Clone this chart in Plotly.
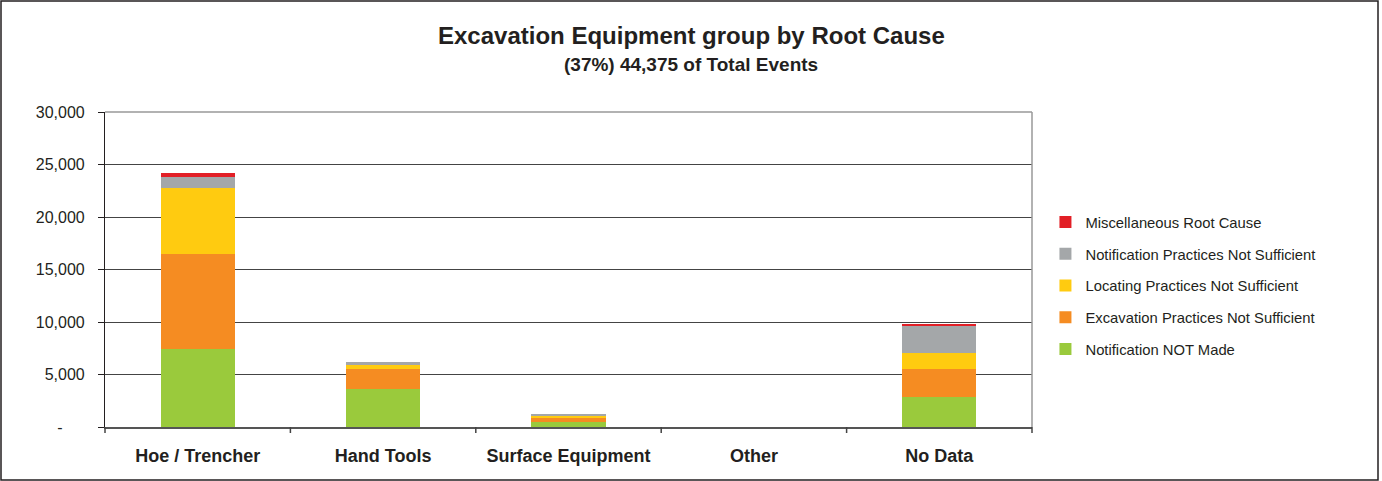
import plotly.graph_objects as go

# Equipment groups along the x axis
categories = ["Hoe / Trencher", "Hand Tools", "Surface Equipment", "Other", "No Data"]

# Event counts per root cause (stacked bottom to top)
notification_not_made = [7450, 3600, 500, 0, 2850]
excavation_practices = [9030, 1920, 350, 0, 2670]
locating_practices = [6260, 350, 280, 0, 1520]
notification_practices = [1050, 320, 20, 0, 2600]
miscellaneous = [380, 0, 0, 0, 160]

series = [
    ("Notification NOT Made", notification_not_made, "#9aca3c"),
    ("Excavation Practices Not Sufficient", excavation_practices, "#f58c22"),
    ("Locating Practices Not Sufficient", locating_practices, "#ffcb10"),
    ("Notification Practices Not Sufficient", notification_practices, "#a4a7a9"),
    ("Miscellaneous Root Cause", miscellaneous, "#e21f26"),
]

y_ticks = [0, 5000, 10000, 15000, 20000, 25000, 30000]
y_tick_text = ["-" + "\u00a0" * 5, "5,000", "10,000", "15,000", "20,000", "25,000", "30,000"]

W, H = 1382, 481
ML, MR, MT, MB = 105, 350, 112, 54

fig = go.Figure()
for i, (name, vals, color) in enumerate(series):
    fig.add_trace(go.Bar(
        x=categories, y=vals, name=name, legendgroup=name,
        legendrank=1000 - i,
        marker=dict(color=color, line=dict(width=0)),
    ))

pw = W - ML - MR
ph = H - MT - MB
fig.update_layout(
    width=W, height=H,
    barmode="stack", bargap=0.6,
    plot_bgcolor="white", paper_bgcolor="white",
    margin=dict(l=ML, r=MR, t=MT, b=MB),
    font=dict(family="Liberation Sans, Arial, sans-serif", color="#231f20"),
    legend=dict(
        x=1.0145, xanchor="left", y=0.448, yanchor="middle",
        traceorder="grouped", tracegroupgap=9.5,
        font=dict(size=14.8, color="#231f20"), itemwidth=30,
        bgcolor="rgba(0,0,0,0)",
    ),
    xaxis=dict(
        showline=True, linecolor="#555", linewidth=1.5,
        ticks="", tickfont=dict(size=18, color="#231f20"),
        tickprefix="<b>", ticksuffix="</b>", ticklabelstandoff=12,
    ),
    yaxis=dict(
        range=[0, 30000], tickvals=y_ticks, ticktext=y_tick_text,
        showgrid=True, gridcolor="#444", gridwidth=1.2,
        showline=True, linecolor="#231f20", linewidth=1.2,
        ticks="outside", ticklen=6, tickcolor="#231f20",
        tickfont=dict(size=16, color="#231f20"), zeroline=False,
        ticklabelstandoff=10,
    ),
    annotations=[
        dict(text="<b>Excavation Equipment group by Root Cause</b>",
             xref="paper", yref="paper", x=(W / 2 - ML) / pw, xanchor="center",
             y=(ph + MT - 36) / ph, yanchor="middle", showarrow=False,
             font=dict(size=24, color="#231f20")),
        dict(text="<b>(37%) 44,375 of Total Events</b>",
             xref="paper", yref="paper", x=(W / 2 - ML) / pw, xanchor="center",
             y=(ph + MT - 64) / ph, yanchor="middle", showarrow=False,
             font=dict(size=19, color="#231f20")),
    ],
)

shapes = []
# plot area frame (top and right edges)
shapes.append(dict(type="line", xref="paper", yref="paper", x0=0, x1=1, y0=1, y1=1,
                   line=dict(color="#999", width=1.5)))
shapes.append(dict(type="line", xref="paper", yref="paper", x0=1, x1=1, y0=0, y1=1,
                   line=dict(color="#999", width=1.5)))
# category divider ticks below the x axis
n = len(categories)
for i in range(n + 1):
    shapes.append(dict(type="line", xref="paper", yref="paper",
                       x0=i / n, x1=i / n, y0=0, y1=-6 / ph,
                       line=dict(color="#444", width=1.5)))
# outer frame around the whole chart
shapes.append(dict(type="rect", xref="paper", yref="paper",
                   x0=(1 - ML) / pw, x1=(W - 4 - ML) / pw,
                   y0=-(MB - 1) / ph, y1=(ph + MT - 1) / ph,
                   line=dict(color="#231f20", width=1.5), fillcolor="rgba(0,0,0,0)"))
fig.update_layout(shapes=shapes)

fig.write_html("out.html")
